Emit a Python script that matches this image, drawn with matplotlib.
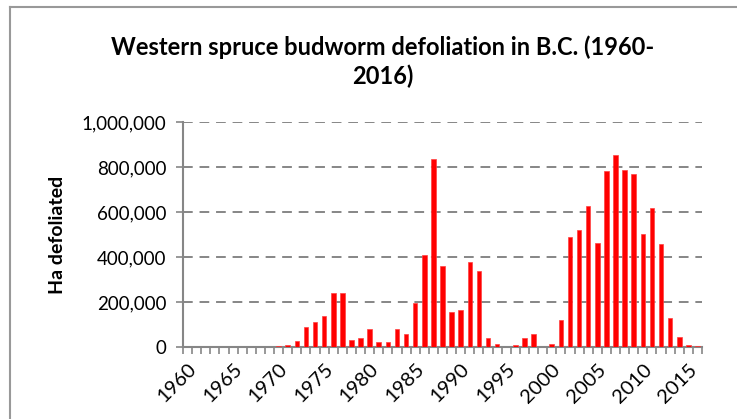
import matplotlib
matplotlib.use("Agg")
import matplotlib.pyplot as plt
from matplotlib.lines import Line2D
from matplotlib.ticker import FuncFormatter, FixedLocator
import numpy as np

years = list(range(1960, 2017))
# hectares defoliated
hectares = [
    0, 0, 0, 0, 0, 0, 0, 0, 0, 0,                                       # 1960-1969
    3000, 9000, 28000, 88000, 109000, 140000, 239000, 239000, 31000, 42000,  # 1970s
    78000, 22000, 22000, 82000, 60000, 196000, 410000, 836000, 360000, 154000,  # 1980s
    166000, 378000, 337000, 39000, 12000, 1000, 7000, 42000, 60000, 0,  # 1990s
    12000, 122000, 490000, 522000, 625000, 464000, 781000, 852000, 785000, 770000,  # 2000s
    501000, 619000, 458000, 127000, 43000, 7000, 3000,                  # 2010-2016
]
label_years = list(range(1960, 2016, 5))

title = "Western spruce budworm defoliation in B.C. (1960-\n2016)"
ylabel = "Ha defoliated"

plt.rcParams['font.family'] = ['Lato', 'DejaVu Sans']
gray = '#868686'

fig = plt.figure(figsize=(7.37, 4.19), dpi=100)
ax = fig.add_axes([183/737, 72/419, (702-183)/737, (347-122)/419])

x = np.arange(len(years))
ax.bar(x, hectares, width=0.5, color='#ff0000', edgecolor='#ff4040', linewidth=0.5, zorder=3)

ax.set_xlim(-0.5, len(years) - 0.5)
ax.set_ylim(0, 1000000)

# y axis
ax.set_yticks(range(0, 1000001, 200000))
ax.yaxis.set_major_formatter(FuncFormatter(lambda v, p: f"{int(v):,}"))
ax.tick_params(axis='y', direction='out', length=5, width=1.2, color=gray,
               labelsize=13.5, pad=7, labelcolor='black')
ax.grid(axis='y', color=gray, linestyle=(0, (5, 3.5)), linewidth=1.4, zorder=1)

# x axis: tick marks between categories, labels every 5 years
ax.xaxis.set_major_locator(FixedLocator(np.arange(-0.5, len(years) + 0.5, 1)))
ax.xaxis.set_major_formatter(FuncFormatter(lambda v, p: ""))
ax.tick_params(axis='x', direction='out', length=5, width=1.2, color=gray)
for yr in label_years:
    ax.text(yr - 1960, -60000, str(yr), rotation=45, rotation_mode='anchor',
            ha='right', va='top', fontsize=14.5)

for s in ['top', 'right']:
    ax.spines[s].set_visible(False)
for s in ['left', 'bottom']:
    ax.spines[s].set_color(gray)
    ax.spines[s].set_linewidth(1.5)

ax.set_ylabel(ylabel, fontsize=14, fontweight='bold')
ax.yaxis.set_label_coords((66 - 183) / 519, 0.5)
fig.text(383/737, 1 - 62/419, title, ha='center', va='center', fontsize=17,
         fontweight='bold', linespacing=1.3)

# chart area frame (only top and left edges are inside the picture)
fig.add_artist(Line2D([10/737, 10/737], [0, 1 - 7/419], transform=fig.transFigure,
                      color='#999999', linewidth=1.5))
fig.add_artist(Line2D([10/737, 1], [1 - 7/419, 1 - 7/419], transform=fig.transFigure,
                      color='#999999', linewidth=1.5))
fig.text(30/737, 1 + 3/419, "y", fontsize=12, ha='center', va='baseline')

fig.savefig("out.png", dpi=100)
